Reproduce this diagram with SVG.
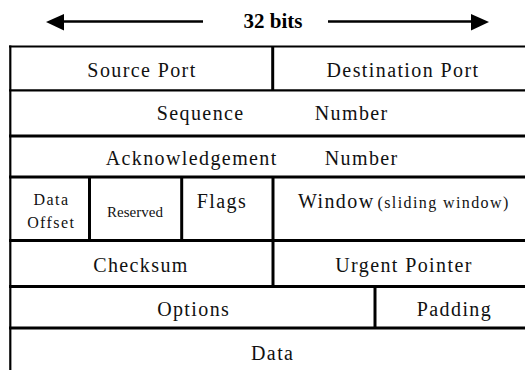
<svg xmlns="http://www.w3.org/2000/svg" width="525" height="370" viewBox="0 0 525 370">
  <style>
    .grid { stroke: #000; stroke-width: 3; fill: none; }
    .thin { stroke-width: 2.2; }
    .lbl { font-family: "Liberation Serif", "Times New Roman", serif; font-size: 20px; letter-spacing: 1.4px; fill: #111; text-anchor: middle; }
    .small { font-size: 16px; }
    .tiny { font-size: 15px; letter-spacing: 0; }
    .title { font-family: "Liberation Serif", "Times New Roman", serif; font-size: 21px; font-weight: bold; fill: #000; text-anchor: middle; }
  </style>
  <rect width="525" height="370" fill="#fff"/>

  <!-- width indicator -->
  <g id="width-indicator">
    <line x1="60" y1="21.5" x2="203" y2="21.5" stroke="#000" stroke-width="2.5"/>
    <polygon points="46,22 64,14 64,30.5" fill="#000"/>
    <line x1="328" y1="21.5" x2="474" y2="21.5" stroke="#000" stroke-width="2.5"/>
    <polygon points="489,22 471,14 471,30.5" fill="#000"/>
    <text class="title" x="273" y="28">32 bits</text>
  </g>

  <!-- table rules -->
  <g id="grid" class="grid">
    <line class="thin" x1="10.3" y1="45.5" x2="10.3" y2="370"/>
    <line class="thin" x1="9" y1="46.5" x2="525" y2="46.5"/>
    <line class="thin" x1="9" y1="90.3" x2="525" y2="90.3"/>
    <line x1="9" y1="136" x2="525" y2="136"/>
    <line x1="9" y1="177" x2="525" y2="177"/>
    <line x1="9" y1="240.6" x2="525" y2="240.6"/>
    <line x1="9" y1="286.6" x2="525" y2="286.6"/>
    <line x1="9" y1="328" x2="525" y2="328"/>
    <line x1="272.7" y1="46.5" x2="272.7" y2="90.3"/>
    <line x1="89.5" y1="177" x2="89.5" y2="240.6"/>
    <line x1="181.7" y1="177" x2="181.7" y2="240.6"/>
    <line x1="273" y1="177" x2="273" y2="286.6"/>
    <line x1="375" y1="286.6" x2="375" y2="328"/>
  </g>

  <g id="source-port"><text class="lbl" x="142" y="77">Source Port</text></g>
  <g id="destination-port"><text class="lbl" x="403" y="77" letter-spacing="1">Destination Port</text></g>
  <g id="sequence-number">
    <text class="lbl" x="200.7" y="119.5">Sequence</text>
    <text class="lbl" x="351.7" y="119.5">Number</text>
  </g>
  <g id="acknowledgement-number">
    <text class="lbl" x="191.7" y="164.5">Acknowledgement</text>
    <text class="lbl" x="361.7" y="164.5">Number</text>
  </g>
  <g id="data-offset">
    <text class="lbl small" x="51.5" y="205">Data</text>
    <text class="lbl small" x="51.2" y="228">Offset</text>
  </g>
  <g id="reserved"><text class="lbl tiny" x="135" y="217">Reserved</text></g>
  <g id="flags"><text class="lbl" x="222" y="208">Flags</text></g>
  <g id="window">
    <text class="lbl" x="298" y="208" style="text-anchor:start">Window<tspan font-size="16" dx="3">(sliding window)</tspan></text>
  </g>
  <g id="checksum"><text class="lbl" x="141" y="272">Checksum</text></g>
  <g id="urgent-pointer"><text class="lbl" x="404" y="272" letter-spacing="1.1">Urgent Pointer</text></g>
  <g id="options"><text class="lbl" x="193.7" y="316">Options</text></g>
  <g id="padding"><text class="lbl" x="454.5" y="316" letter-spacing="1.1">Padding</text></g>
  <g id="data"><text class="lbl" x="272.7" y="360">Data</text></g>
</svg>
